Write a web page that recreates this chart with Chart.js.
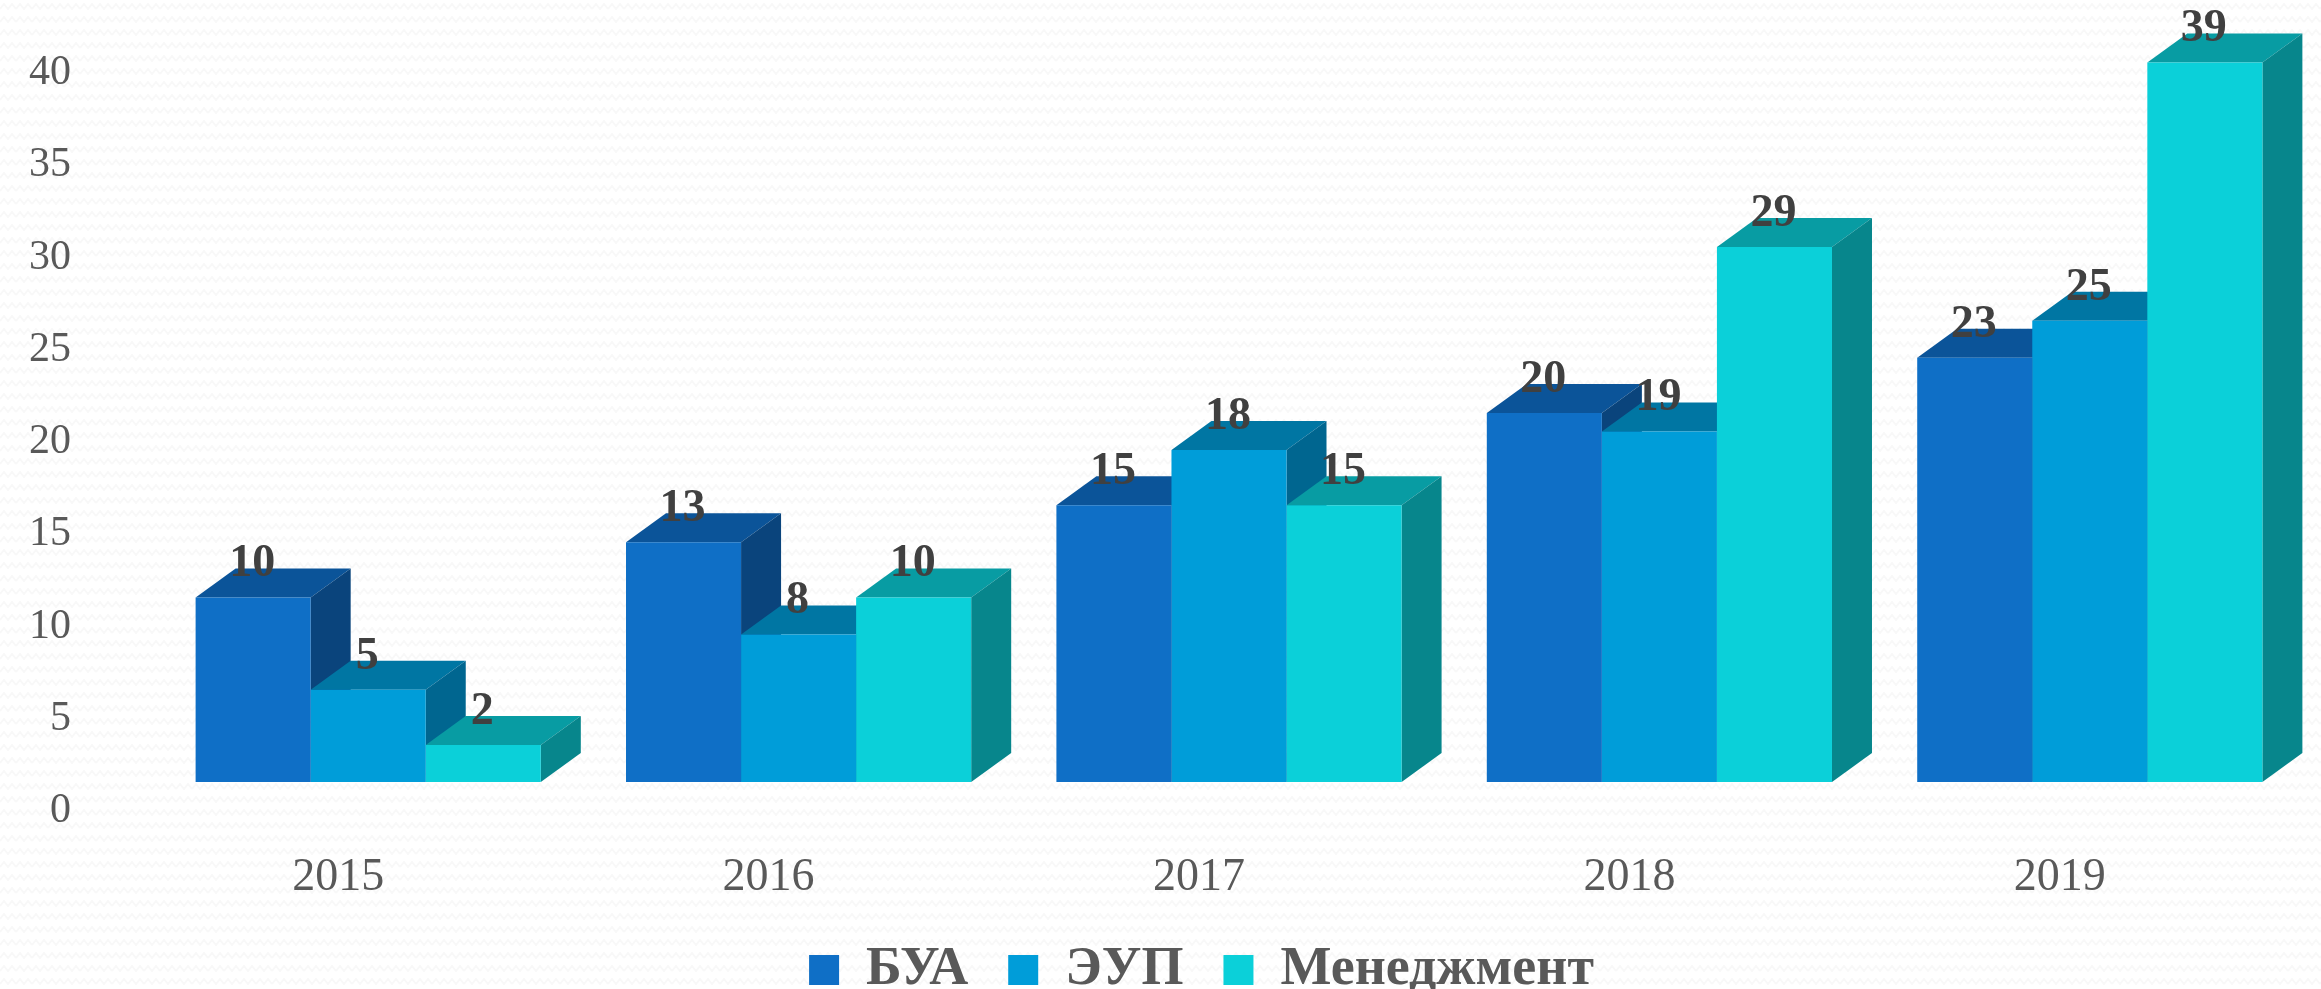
<!DOCTYPE html>
<html lang="ru">
<head>
<meta charset="utf-8">
<title>Контингент</title>
<script src="https://cdn.jsdelivr.net/npm/chart.js@4/dist/chart.umd.min.js"></script>
<style>
  html, body { margin: 0; padding: 0; background-color: #fff; }
  body {
    width: 2321px;
    height: 989px;
    overflow: hidden;
    background-image: url("data:image/svg+xml,%3Csvg xmlns='http://www.w3.org/2000/svg' width='16' height='13'%3E%3Cpath d='M0 9 L4 4 L8 9 L12 4 L16 9' fill='none' stroke='%23f8f8f8' stroke-width='2'/%3E%3C/svg%3E");
  }
  canvas { display: block; }
</style>
</head>
<body>
<canvas id="chart" width="2321" height="989"></canvas>
<script>
const categories = ["2015", "2016", "2017", "2018", "2019"];
const buaValues = [10, 13, 15, 20, 23];
const eupValues = [5, 8, 18, 19, 25];
const menValues = [2, 10, 15, 29, 39];
const yTickValues = [0, 5, 10, 15, 20, 25, 30, 35, 40];

const FONT = '"Liberation Serif", serif';
const DEPTH_X = 40;
const DEPTH_Y = 29;

// front, top, side
const buaColors = ["#0f6fc6", "#0b5499", "#0a447c"];
const eupColors = ["#009dd9", "#0076a3", "#006690"];
const menColors = ["#0bd0d9", "#089ca3", "#07868c"];

function face(ctx, color, points) {
  ctx.fillStyle = color;
  ctx.beginPath();
  points.forEach((p, i) => (i ? ctx.lineTo(p[0], p[1]) : ctx.moveTo(p[0], p[1])));
  ctx.closePath();
  ctx.fill();
}

// top and side of each box, the front is the normal bar
const box3d = {
  id: "box3d",
  beforeDatasetsDraw(chart) {
    const ctx = chart.ctx;
    ctx.save();
    chart.data.datasets.forEach((ds, i) => {
      chart.getDatasetMeta(i).data.forEach((bar) => {
        const left = bar.x - bar.width / 2;
        const right = bar.x + bar.width / 2;
        face(ctx, ds.faceColors[0], [[left, bar.y], [left + DEPTH_X, bar.y - DEPTH_Y], [right + DEPTH_X, bar.y - DEPTH_Y], [right, bar.y]]);
        face(ctx, ds.faceColors[1], [[right, bar.y], [right + DEPTH_X, bar.y - DEPTH_Y], [right + DEPTH_X, bar.base - DEPTH_Y], [right, bar.base]]);
      });
    });
    ctx.restore();
  },
  afterDatasetsDraw(chart) {
    const ctx = chart.ctx;
    ctx.save();
    ctx.font = "bold 46px " + FONT;
    ctx.fillStyle = "#404040";
    ctx.textAlign = "center";
    ctx.textBaseline = "middle";
    chart.data.datasets.forEach((ds, i) => {
      chart.getDatasetMeta(i).data.forEach((bar, j) => {
        ctx.fillText(String(ds.data[j]), bar.x - 1, bar.y - 33);
      });
    });
    ctx.restore();
  },
  afterLayout(chart) {
    // legend sits right of the centre in the original
    chart.legend.left += 49;
    chart.legend.right += 49;
  }
};

new Chart(document.getElementById("chart"), {
  type: "bar",
  data: {
    labels: categories,
    datasets: [
      { label: "БУА", data: buaValues, backgroundColor: buaColors[0], faceColors: buaColors.slice(1) },
      { label: "ЭУП", data: eupValues, backgroundColor: eupColors[0], faceColors: eupColors.slice(1) },
      { label: "Менеджмент", data: menValues, backgroundColor: menColors[0], faceColors: menColors.slice(1) }
    ]
  },
  options: {
    responsive: false,
    animation: false,
    layout: { padding: { top: 44, right: 16, bottom: -18, left: 0 } },
    datasets: { bar: { barPercentage: 1, categoryPercentage: 0.802, borderWidth: 0 } },
    plugins: {
      tooltip: { enabled: false },
      legend: {
        position: "bottom",
        labels: {
          boxWidth: 30,
          boxHeight: 30,
          padding: 40,
          color: "#595959",
          font: { family: FONT, size: 54, weight: "bold" }
        }
      }
    },
    scales: {
      x: {
        grid: { display: false },
        border: { display: false },
        // year labels sit left of the group centre in the original
        ticks: { padding: 60, labelOffset: -30, color: "#595959", font: { family: FONT, size: 46 } },
        afterFit(scale) { scale.height = 121; }
      },
      y: {
        min: 0,
        max: 40,
        // tickLength moves the labels left, ticks.padding would also shrink the plot
        grid: { display: false, drawTicks: true, tickLength: 80 },
        border: { display: false },
        afterBuildTicks(scale) { scale.ticks = yTickValues.map((value) => ({ value })); },
        // labels run lower than the bars, as in the original
        ticks: { padding: 2, labelOffset: 29, color: "#595959", font: { family: FONT, size: 42 } },
        afterFit(scale) { scale.width = 153; }
      }
    }
  },
  plugins: [box3d]
});
</script>
</body>
</html>
